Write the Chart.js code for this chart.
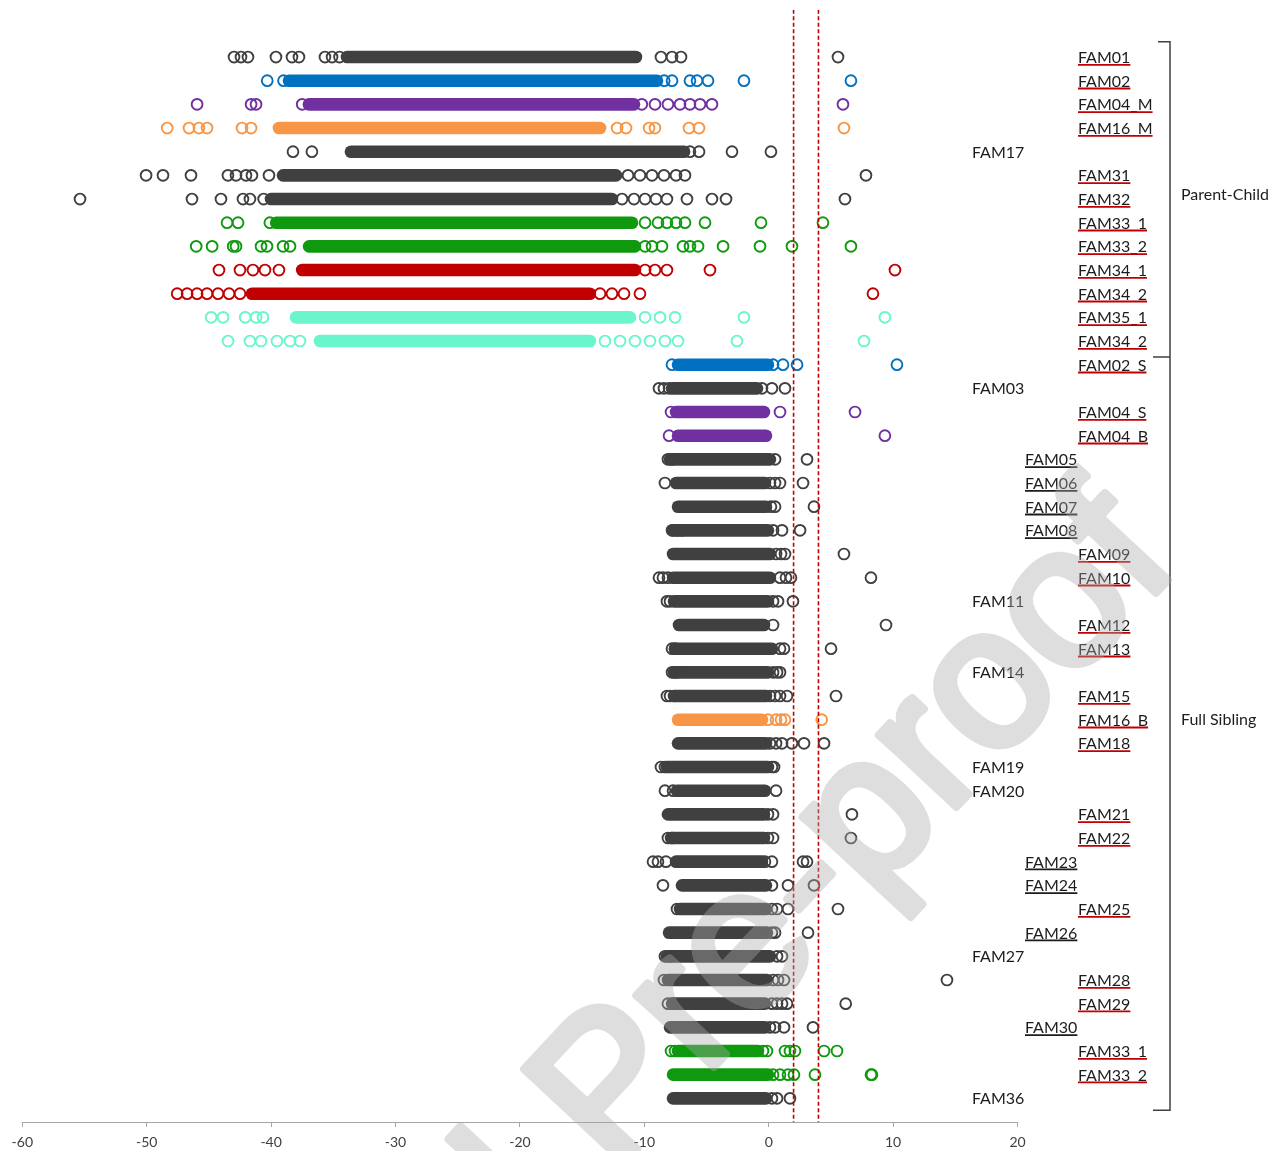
<!DOCTYPE html>
<html>
<head>
<meta charset="utf-8">
<title>Kinship likelihood ratios by family</title>
<script src="https://cdn.jsdelivr.net/npm/chart.js@4.4.1/dist/chart.umd.min.js"></script>
<style>
  html, body { margin: 0; padding: 0; background: #ffffff; }
  canvas { display: block; }
</style>
</head>
<body>
<canvas id="chart" width="1279" height="1151"></canvas>
<script>
// ---- data -------------------------------------------------------------
const families = [
  'FAM01', 'FAM02', 'FAM04_M', 'FAM16_M', 'FAM17', 'FAM31', 'FAM32', 'FAM33_1',
  'FAM33_2', 'FAM34_1', 'FAM34_2', 'FAM35_1', 'FAM34_2', 'FAM02_S', 'FAM03',
  'FAM04_S', 'FAM04_B', 'FAM05', 'FAM06', 'FAM07', 'FAM08', 'FAM09', 'FAM10',
  'FAM11', 'FAM12', 'FAM13', 'FAM14', 'FAM15', 'FAM16_B', 'FAM18', 'FAM19',
  'FAM20', 'FAM21', 'FAM22', 'FAM23', 'FAM24', 'FAM25', 'FAM26', 'FAM27',
  'FAM28', 'FAM29', 'FAM30', 'FAM33_1', 'FAM33_2', 'FAM36'
];

// 0 = unrelated pair, 1 = related (not confirmed), 2 = related (confirmed)
const labelTier = [
  2, 2, 2, 2, 0, 2, 2, 2, 2, 2, 2, 2, 2, 2, 0, 2, 2, 1, 1, 1, 1, 2, 2,
  0, 2, 2, 0, 2, 2, 2, 0, 0, 2, 2, 1, 1, 2, 1, 0, 2, 2, 1, 2, 2, 0
];

// where the simulated log-likelihood ratios run together into a solid band
const denseFrom = [
  -33.9, -38.56, -36.96, -39.37, -33.58, -39.04, -40.01, -39.59, -36.95, -37.5,
  -41.54, -38.0, -36.07, -7.29, -7.77, -7.45, -7.29, -7.93, -7.45, -7.29,
  -7.69, -7.69, -7.69, -7.61, -7.21, -7.53, -7.61, -7.53, -7.29, -7.29,
  -8.18, -7.37, -8.1, -7.85, -7.45, -6.97, -7.13, -8.01, -8.18, -8.1,
  -7.77, -7.93, -7.29, -7.69, -7.69
];
const denseTo = [
  -10.67, -8.98, -10.83, -13.56, -6.8, -12.27, -12.6, -10.99, -10.75, -10.75,
  -14.37, -11.15, -14.37, -0.06, -0.94, -0.38, -0.22, 0.1, -0.3, -0.22,
  -0.06, 0.1, 0.1, -0.06, -0.38, 0.26, -0.06, -0.22, -0.54, -0.22,
  -0.06, -0.3, -0.38, -0.38, -0.54, -0.22, -0.22, -0.14, 0.1, -0.14,
  -0.3, -0.3, -0.86, -0.06, -0.22
];

// individual values that stand apart from the band
const scatterValues = [
  [-42.98, -42.42, -41.86, -39.61, -38.32, -37.76, -35.67, -35.1, -34.5, -8.66, -7.77, -7.05, 5.57],
  [-40.31, -39.0, -8.4, -7.77, -6.33, -5.76, -4.88, -1.99, 6.61],
  [-45.95, -41.61, -41.21, -37.5, -10.2, -9.14, -8.1, -7.13, -6.33, -5.52, -4.56, 5.97],
  [-48.35, -46.6, -45.8, -45.15, -42.34, -41.61, -12.19, -11.47, -9.62, -9.14, -6.41, -5.6, 6.05],
  [-38.24, -36.72, -6.33, -5.6, -2.95, 0.18],
  [-50.05, -48.69, -46.44, -43.47, -42.82, -42.02, -41.54, -40.17, -11.31, -10.35, -9.38, -8.42, -7.45, -6.73, 7.82],
  [-55.36, -46.36, -44.03, -42.26, -41.7, -40.6, -11.79, -10.83, -9.94, -9.06, -8.18, -6.57, -4.56, -3.43, 6.13],
  [-43.54, -42.66, -40.1, -9.94, -8.9, -8.18, -7.45, -6.73, -5.12, -0.62, 4.36],
  [-46.02, -44.74, -43.05, -42.82, -40.81, -40.33, -39.04, -38.48, -9.94, -9.38, -8.58, -6.89, -6.33, -5.68, -3.67, -0.7, 1.87, 6.61],
  [-44.19, -42.5, -41.46, -40.49, -39.37, -9.94, -9.14, -8.18, -4.72, 10.15],
  [-47.55, -46.75, -45.95, -45.15, -44.27, -43.38, -42.5, -13.56, -12.6, -11.63, -10.35, 8.38],
  [-44.82, -43.86, -42.08, -41.2, -40.65, -9.94, -8.74, -7.53, -1.99, 9.34],
  [-43.46, -41.7, -40.81, -39.53, -38.48, -37.68, -13.16, -11.95, -10.75, -9.54, -8.34, -7.29, -2.55, 7.66],
  [-7.77, 0.35, 1.15, 2.28, 10.31],
  [-8.82, -8.42, -8.01, -0.54, 0.26, 1.31],
  [-7.85, 0.91, 6.94],
  [-8.01, 9.34],
  [-8.1, -7.77, 0.51, 3.08],
  [-8.34, 0.1, 0.51, 0.91, 2.76],
  [0.18, 0.51, 3.64],
  [-7.77, -7.37, -6.97, 0.35, 1.07, 2.52],
  [0.59, 0.99, 1.31, 6.05],
  [-8.82, -8.5, -8.1, 0.91, 1.39, 1.79, 8.22],
  [-8.18, -7.93, 0.35, 0.75, 1.95],
  [0.35, 9.43],
  [-7.77, -7.53, 0.91, 1.23, 5.01],
  [-7.77, -7.45, 0.35, 0.67, 0.91],
  [-8.18, -7.93, -7.61, 0.1, 0.51, 0.91, 1.47, 5.41],
  [-0.06, 0.59, 0.99, 1.31, 4.26],
  [0.1, 0.59, 1.07, 1.87, 2.84, 4.45],
  [-8.66, -8.34, 0.26, 0.43],
  [-8.34, -7.69, 0.59],
  [-0.06, 0.35, 6.69],
  [-8.1, -7.77, -0.06, 0.35, 6.61],
  [-9.3, -8.9, -8.26, -0.3, 0.26, 2.76, 3.08],
  [-8.5, 0.26, 1.55, 3.64],
  [-7.37, 0.26, 0.67, 1.55, 5.57],
  [0.26, 0.51, 3.16],
  [-8.34, -7.93, 0.67, 1.07],
  [-8.42, 0.35, 0.75, 1.23, 14.33],
  [-8.1, -7.69, 0.26, 0.67, 1.07, 1.47, 6.19],
  [0.1, 0.51, 1.23, 3.56],
  [-7.85, -7.53, -0.46, -0.14, 1.31, 1.71, 2.11, 4.45, 5.49],
  [0.35, 0.91, 1.55, 2.03, 3.72, 8.22, 8.3],
  [0.26, 0.67, 1.71]
];

// decision thresholds (log-likelihood ratio)
const thresholds = [2, 4];

const xTicks = [-60, -50, -40, -30, -20, -10, 0, 10, 20];

const groupNames = ['Parent-Child', 'Full Sibling'];
const groupFirstRow = [0, 13];
const groupLastRow = [12, 44];

// ---- styles -----------------------------------------------------------
const C = {
  grey: '#404040', blue: '#0070C0', purple: '#7030A0', orange: '#F79646',
  green: '#0F990F', red: '#C00000', aqua: '#6AF5CD'
};
const rowColours = [
  C.grey, C.blue, C.purple, C.orange, C.grey, C.grey, C.grey, C.green, C.green,
  C.red, C.red, C.aqua, C.aqua, C.blue, C.grey, C.purple, C.purple,
  C.grey, C.grey, C.grey, C.grey, C.grey, C.grey, C.grey, C.grey, C.grey, C.grey, C.grey,
  C.orange, C.grey, C.grey, C.grey, C.grey, C.grey, C.grey, C.grey, C.grey, C.grey,
  C.grey, C.grey, C.grey, C.grey, C.green, C.green, C.grey
];
const FONT = 'Lato, "Open Sans", "Liberation Sans", sans-serif';
const Y_MIN = -2, Y_MAX = 45;

// ---- datasets -----------------------------------------------------------
const datasets = [];
thresholds.forEach(t => {
  datasets.push({
    type: 'line',
    data: [{ x: t, y: Y_MIN }, { x: t, y: Y_MAX }],
    borderColor: '#C00000', borderWidth: 1.6, borderDash: [4, 2.5],
    pointRadius: 0, showLine: true, fill: false, order: 0
  });
});
families.forEach((name, i) => {
  const colour = rowColours[i];
  datasets.push({
    type: 'line',
    label: name + ' band',
    data: [{ x: denseFrom[i], y: i }, { x: denseTo[i], y: i }],
    borderColor: colour, borderWidth: 12.6, borderCapStyle: 'round',
    pointRadius: 0, showLine: true, fill: false, tension: 0, order: 2
  });
  datasets.push({
    type: 'scatter',
    label: name,
    data: scatterValues[i].map(v => ({ x: v, y: i })),
    pointStyle: 'circle', pointRadius: 5.4, pointBorderWidth: 1.9,
    pointBorderColor: colour, pointBackgroundColor: 'rgba(0,0,0,0)',
    borderColor: colour, backgroundColor: 'rgba(0,0,0,0)', order: 1
  });
});

// ---- family labels, underlines and grouping brackets --------------------
const sideLabels = {
  id: 'sideLabels',
  afterDatasetsDraw(chart) {
    const { ctx, chartArea, scales } = chart;
    const y = scales.y;
    const colX = [chartArea.right - 45.5, chartArea.right + 7.5, chartArea.right + 60.5];
    ctx.save();
    ctx.font = '16px ' + FONT;
    ctx.textAlign = 'left';
    ctx.textBaseline = 'alphabetic';
    families.forEach((name, i) => {
      const tier = labelTier[i];
      const x = colX[tier];
      const base = y.getPixelForValue(i) + 6;
      ctx.fillStyle = '#1c1c1c';
      ctx.fillText(name, x, base);
      if (tier > 0) {
        const w = ctx.measureText(name).width;
        ctx.strokeStyle = tier === 2 ? '#C00000' : '#1c1c1c';
        ctx.lineWidth = 1.8;
        ctx.beginPath();
        ctx.moveTo(x, base + 1.8);
        ctx.lineTo(x + w, base + 1.8);
        ctx.stroke();
      }
    });

    // bracket marking the relationship groups
    const bx = chartArea.right + 152.5;
    const top = y.getPixelForValue(groupFirstRow[0] - 0.65);
    const mid = y.getPixelForValue(groupLastRow[0] + 0.68);
    const bottom = y.getPixelForValue(groupLastRow[1] + 0.5);
    ctx.strokeStyle = '#404040';
    ctx.lineWidth = 1.5;
    ctx.beginPath();
    ctx.moveTo(bx - 12, top); ctx.lineTo(bx, top);
    ctx.lineTo(bx, bottom); ctx.lineTo(bx - 17, bottom);
    ctx.moveTo(bx - 17, mid); ctx.lineTo(bx, mid);
    ctx.stroke();

    ctx.fillStyle = '#1c1c1c';
    ctx.textBaseline = 'middle';
    const labelRows = [5.8, 28.0];
    groupNames.forEach((g, k) => {
      ctx.fillText(g, bx + 11, y.getPixelForValue(labelRows[k]) + 0.5);
    });
    ctx.restore();
  }
};

// ---- "Journal Pre-proof" stamp --------------------------------------------
// Painted opaque on a scratch canvas first, then laid over the chart with a
// single alpha so that overlapping glyph strokes do not darken.
const stamp = {
  id: 'stamp',
  afterDraw(chart) {
    const ctx = chart.ctx;
    const off = document.createElement('canvas');
    off.width = chart.width;
    off.height = chart.height;
    const o = off.getContext('2d');
    o.translate(1182, 565);
    o.rotate(-47 * Math.PI / 180);
    o.font = '200px "Liberation Sans", Arial, sans-serif';
    o.textAlign = 'right';
    o.textBaseline = 'alphabetic';
    o.fillStyle = 'rgb(170,170,170)';
    o.strokeStyle = 'rgb(170,170,170)';
    o.lineWidth = 8;
    o.lineJoin = 'round';
    o.fillText('Journal Pre-proof', 0, 0);
    o.strokeText('Journal Pre-proof', 0, 0);
    ctx.save();
    ctx.globalAlpha = 0.39;
    ctx.drawImage(off, 0, 0);
    ctx.restore();
  }
};

function build() {
  new Chart(document.getElementById('chart'), {
    type: 'scatter',
    data: { datasets },
    options: {
      responsive: false,
      animation: false,
      devicePixelRatio: 1,
      layout: { padding: { left: 22.3, right: 261.5, top: 9.7, bottom: 0 } },
      plugins: { legend: { display: false }, tooltip: { enabled: false } },
      scales: {
        x: {
          type: 'linear', min: xTicks[0], max: xTicks[xTicks.length - 1],
          afterBuildTicks: s => { s.ticks = xTicks.map(v => ({ value: v })); },
          ticks: { color: '#404040', font: { family: FONT, size: 14 }, padding: 7, maxRotation: 0 },
          grid: { drawOnChartArea: false, drawTicks: true, tickLength: 5, color: '#a6a6a6', lineWidth: 1 },
          border: { display: true, color: '#a6a6a6', width: 1 },
          afterFit: s => { s.height = 29; }
        },
        y: { type: 'linear', display: false, reverse: true, min: Y_MIN, max: Y_MAX }
      }
    },
    plugins: [sideLabels, stamp]
  });
}

const fontLoads = [document.fonts.load('16px Lato'), document.fonts.load('200px "Liberation Sans"')];
Promise.all(fontLoads).then(build, build);
</script>
</body>
</html>
